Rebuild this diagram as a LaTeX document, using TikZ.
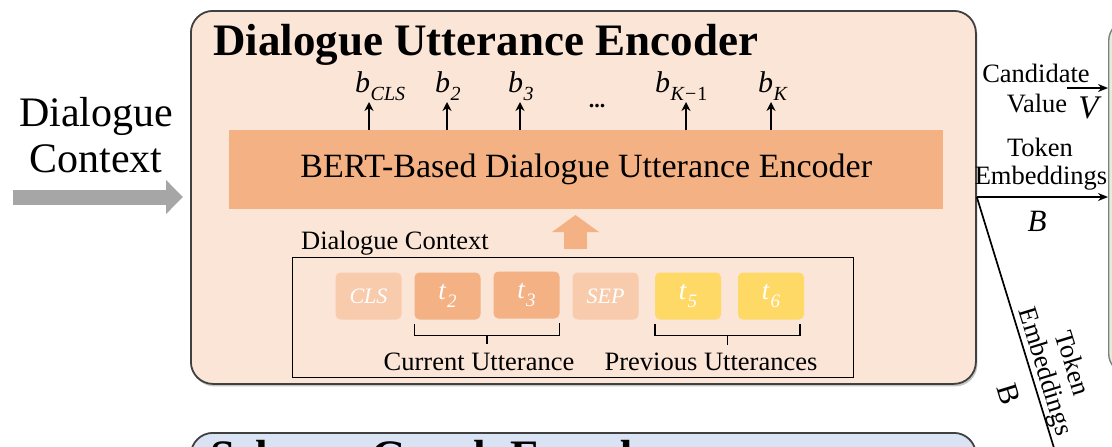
\RequirePackage{fix-cm}
\documentclass[tikz,border=0pt]{standalone}
\usepackage{fontspec}
\setmainfont{Liberation Serif}
\usetikzlibrary{arrows.meta,calc}

\definecolor{peach}{HTML}{FBE5D6}
\definecolor{bertorange}{HTML}{F4B183}
\definecolor{palepeach}{HTML}{F8CBAD}
\definecolor{tokyellow}{HTML}{FFD966}
\definecolor{schemablue}{HTML}{DAE3F3}
\definecolor{slotgreen}{HTML}{E2F0D9}
\definecolor{framegray}{HTML}{404040}
\definecolor{arrowgray}{HTML}{A6A6A6}

\newcommand{\fsz}[1]{\fontsize{#1}{1.2\dimexpr#1pt\relax}\selectfont}
% italic symbol with a lowered subscript: {base}{subscript}{subscript size}
\newcommand{\isub}[3]{\textit{#1}\kern0.5pt\raisebox{-0.3em}{\fsz{#3}\textit{#2}}}

\tikzset{
  panel/.style={draw=framegray, line width=1.8pt, rounded corners=22pt,
    inner sep=0pt, anchor=north west},
  token/.style={rounded corners=5pt, minimum width=66pt, minimum height=47pt,
    inner sep=0pt, text=white, font=\fsz{27}},
  emb/.style={anchor=base west, inner sep=0pt, font=\fsz{30}},
  label/.style={inner sep=0pt, font=\fsz{26.5}},
  outarrow/.style={line width=2.4pt, -{Stealth[length=9pt,width=9pt]}},
  sidearrow/.style={line width=1.7pt, -{Stealth[length=10pt,width=8pt]}},
  bracket/.style={line width=1.5pt},
}

\begin{document}
\begin{tikzpicture}[x=1pt,y=-1pt]
\useasboundingbox (0,0) rectangle (1112,447);
\clip (0,0) rectangle (1112,447);
\fill[white] (0,0) rectangle (1112,447);

% encoder panels
\node[panel, draw=none, fill=gray!45, minimum width=785pt, minimum height=373pt]
  (encshadow) at (191.5,12.5) {};
\node[panel, fill=peach, minimum width=785pt, minimum height=373pt] (enc) at (190,10) {};
\node[panel, fill=schemablue, minimum width=785pt, minimum height=200pt] (schema) at (190,432) {};
\node[panel, draw=gray, line width=1.4pt, rounded corners=20pt, fill=slotgreen,
  minimum width=120pt, minimum height=353pt] (slot) at (1108,20) {};

% titles
\node[anchor=base west, inner sep=0pt, font=\fsz{45}\bfseries] (enctitle) at (213,55)
  {Dialogue Utterance Encoder};
\node[anchor=base west, inner sep=0pt, font=\fsz{45}\bfseries] (schematitle) at (210,471)
  {Schema Graph Encoder};

% external input
\node[align=center, inner sep=0pt, font=\fsz{42}] (ctx) at (96,135)
  {Dialogue\\[-4pt]Context};
\coordinate (ctxstart) at (13,197);
\draw[arrowgray, line width=15pt, -{Triangle[length=17pt,width=33pt]}]
  (ctxstart) -- (183,197);

% BERT encoder bar
\node[anchor=north west, fill=bertorange, minimum width=714pt, minimum height=79pt,
  inner sep=0pt, font=\fsz{34}] (bert) at (229,130) {BERT-Based Dialogue Utterance Encoder};

% output embeddings
\node[emb] (bcls) at (355,92) {\isub{b}{CLS}{20}};
\node[emb] (btwo) at (435,92) {\isub{b}{2}{20}};
\node[emb] (bthree) at (508,92) {\isub{b}{3}{20}};
\node[emb] (bkm) at (655,92) {\isub{b}{K\kern1pt\textup{−}\kern1pt\textup{1}}{20}};
\node[emb] (bk) at (758,92) {\isub{b}{K}{20}};
\node[inner sep=0pt, font=\fsz{22}\bfseries] (dots) at (597,106) {...};
\foreach \x/\n in {369/bcls, 447/btwo, 520/bthree, 686/bkm, 771/bk}{
  \coordinate (tip-\n) at (\x,102);
  \draw[outarrow] (bert.north -| tip-\n) -- (tip-\n);
}

% input tokens
\node[label, anchor=base] (ctxlabel) at (395,249) {Dialogue Context};
\node[draw=black, line width=1.2pt, anchor=north west, minimum width=561pt,
  minimum height=120pt, inner sep=0pt] (inbox) at (292,257) {};
\node[token, fill=palepeach, font=\fsz{22}] (tcls) at (368.5,296) {\textit{CLS}};
\node[token, fill=bertorange] (ttwo) at (447.5,296) {\isub{t}{2}{19}};
\node[token, fill=bertorange] (tthree) at (526.5,295) {\isub{t}{3}{19}};
\node[token, fill=palepeach, font=\fsz{22}] (tsep) at (605.5,296) {\textit{SEP}};
\node[token, fill=tokyellow] (tfive) at (688,296) {\isub{t}{5}{19}};
\node[token, fill=tokyellow] (tsix) at (771,296) {\isub{t}{6}{19}};
\draw[bertorange, line width=23pt, -{Triangle[length=17pt,width=46pt]}]
  (575.5,249) -- (575.5,215) coordinate (uptip);

% utterance brackets
\draw[bracket] ([yshift=-4pt]ttwo.south west) -- ++(0,12) -| ([yshift=-4pt]tthree.south east);
\draw[bracket] ($(ttwo.south west)!0.5!(tthree.south east)+(0,16)$) -- ++(0,9);
\draw[bracket] ([yshift=-4pt]tfive.south west) -- ++(0,12) -| ([xshift=-4pt,yshift=-4pt]tsix.south east);
\draw[bracket] ($(tfive.south west)!0.5!([xshift=-4pt]tsix.south east)+(0,16)$) -- ++(0,9);
\node[label] (curr) at (479,362) {Current Utterance};
\node[label] (prev) at (711,362) {Previous Utterances};

% outputs to the right
\node[label] (candA) at (1036,73) {Candidate};
\node[label] (candB) at (1037,104) {Value};
\node[inner sep=0pt, font=\fsz{33}] (vsym) at (1090,108) {\textit{V}};
\coordinate (candstart) at (1067,88);
\draw[sidearrow] (candstart) -- (candstart -| slot.west);
\node[label] (tokA) at (1040,147) {Token};
\node[label] (tokB) at (1041,178) {Embeddings};
\node[inner sep=0pt, font=\fsz{31}] (bsym) at (1037,221) {\textit{B}};
\coordinate (embout) at (enc.east |- 0,197);
\draw[sidearrow] (embout) -- (embout -| slot.west);
\coordinate (downend) at (1070,500);
\draw[line width=1.7pt] (embout) -- (downend)
  node[pos=0.59, sloped, above=0pt, align=center, inner sep=0pt, font=\fsz{26.5}] (tokdown)
    {Token\\[-4pt]Embeddings}
  node[pos=0.625, sloped, below=17pt, inner sep=0pt, font=\fsz{30}] (bdown) {B};
\end{tikzpicture}
\end{document}
